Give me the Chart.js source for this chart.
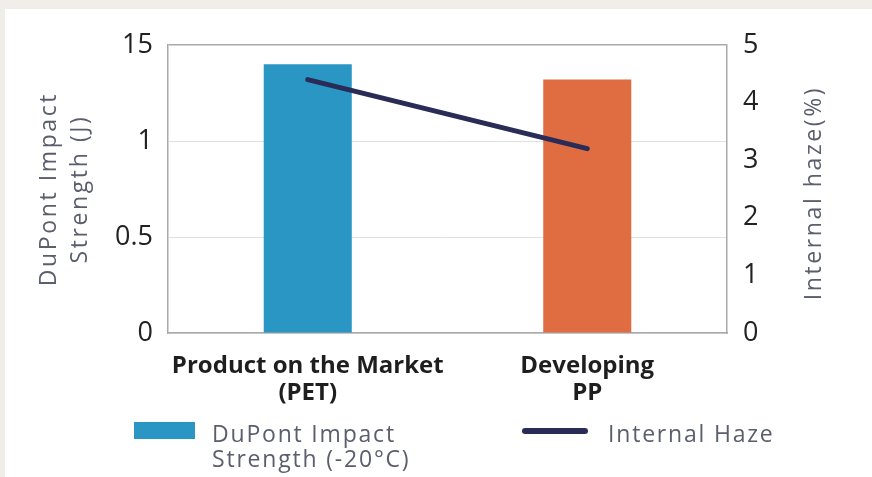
<!DOCTYPE html>
<html><head><meta charset="utf-8">
<script src="https://cdn.jsdelivr.net/npm/chart.js@4/dist/chart.umd.min.js"></script>
<style>
html,body{margin:0;padding:0;background:#efeee9;width:872px;height:477px;overflow:hidden}
#panel{position:absolute;left:5px;top:9px;right:0;bottom:0;background:#fff}
#wrap{position:absolute;left:0;top:0;width:872px;height:477px}
</style></head><body><div id="panel"></div><div id="wrap"><canvas id="c"></canvas></div>
<script>
const categories = [["Product on the Market","(PET)"],["Developing","PP"]];
const impactStrength = [1.40, 1.32];
const internalHaze = [4.4, 3.2];
const leftTickValues = [0, 0.5, 1, 1.5];
const leftTickLabels = ["0","0.5","1","15"];
const rightTickLabels = ["0","1","2","3","4","5"];
const leftTitle = ["DuPont Impact","Strength (J)"];
const rightTitle = "Internal haze(%)";
const impactLegend = ["DuPont Impact","Strength (-20°C)"];
const hazeLegend = ["Internal Haze"];

const BLUE = '#2a96c4', ORANGE = '#e06d42', NAVY = '#2a2c57';
const AXIS = '#a9a9a9', GRID = '#e0e0e0', TITLE = '#5b5e6c', TICK = '#222222';
const FONT = '"Open Sans", "Noto Sans", sans-serif';

const spacingPlugin = {
  id: 'spacing',
  beforeDraw(chart) {
    const s = chart.scales.y;
    if (s && !s._wrappedTitle) {
      const orig = s.drawTitle;
      s.drawTitle = function () {
        this.ctx.save();
        this.ctx.letterSpacing = '2.6px';
        orig.call(this);
        this.ctx.restore();
      };
      s._wrappedTitle = true;
    }
  }
};

const overlayPlugin = {
  id: 'overlay',
  afterDraw(chart) {
    const ctx = chart.ctx;
    const bar = chart.data.datasets[1];
    const line = chart.data.datasets[0];
    const ca = chart.chartArea;
    ctx.save();
    // right axis title, reading bottom-to-top
    ctx.letterSpacing = '2.6px';
    ctx.font = '23px ' + FONT;
    ctx.fillStyle = TITLE;
    ctx.textAlign = 'center';
    ctx.textBaseline = 'middle';
    ctx.save();
    ctx.translate(chart.scales.y1.right - 58, (ca.top + ca.bottom) / 2 + 4);
    ctx.rotate(-Math.PI / 2);
    ctx.fillText(rightTitle, 0, 0);
    ctx.restore();
    // legend
    ctx.fillStyle = bar.backgroundColor[0];
    ctx.fillRect(134, 422, 61, 17);
    ctx.strokeStyle = line.borderColor;
    ctx.lineWidth = 6;
    ctx.lineCap = 'round';
    ctx.beginPath();
    ctx.moveTo(525, 431);
    ctx.lineTo(585, 431);
    ctx.stroke();
    ctx.letterSpacing = '1.8px';
    ctx.fillStyle = TITLE;
    ctx.textBaseline = 'alphabetic';
    ctx.textAlign = 'left';
    impactLegend.forEach((t, i) => ctx.fillText(t, 212, 442 + i * 25));
    hazeLegend.forEach((t, i) => ctx.fillText(t, 608, 442 + i * 25));
    ctx.restore();
  }
};

new Chart(document.getElementById('c'), {
  data: {
    labels: categories,
    datasets: [
      {
        type: 'line',
        label: hazeLegend.join(' '),
        data: internalHaze,
        yAxisID: 'y1',
        borderColor: NAVY,
        borderWidth: 5,
        borderCapStyle: 'round',
        pointRadius: 0,
        pointHoverRadius: 0,
        tension: 0,
        order: 0
      },
      {
        type: 'bar',
        label: impactLegend.join(' '),
        data: impactStrength,
        yAxisID: 'y',
        backgroundColor: [BLUE, ORANGE],
        borderWidth: 0,
        categoryPercentage: 1,
        barPercentage: 0.315,
        order: 1
      }
    ]
  },
  options: {
    responsive: true,
    maintainAspectRatio: false,
    animation: false,
    layout: { padding: { top: 45, left: 0, right: 0, bottom: 0 } },
    plugins: { legend: { display: false }, tooltip: { enabled: false } },
    scales: {
      x: {
        grid: { display: false },
        border: { display: true, color: AXIS, width: 1.5 },
        ticks: {
          font: { family: FONT, size: 24, weight: 'bold', lineHeight: 1.15 },
          color: '#1e1e1e', padding: 11, maxRotation: 0, autoSkip: false
        },
        afterFit(s) { s.height = 144; }
      },
      y: {
        position: 'left',
        min: 0, max: 1.5,
        afterBuildTicks(s) { s.ticks = leftTickValues.map(v => ({ value: v })); },
        ticks: {
          callback: (v) => leftTickLabels[leftTickValues.indexOf(v)],
          padding: 15, font: { family: FONT, size: 27 }, color: TICK
        },
        grid: {
          color: c => (c.tick && c.tick.value === 1.5) ? AXIS : GRID,
          lineWidth: c => (c.tick && c.tick.value === 1.5) ? 1.5 : 1,
          drawTicks: false
        },
        border: { display: true, color: AXIS, width: 1.5 },
        title: {
          display: true, text: leftTitle, color: TITLE,
          font: { family: FONT, size: 23, lineHeight: 1.35 },
          padding: { top: 34, bottom: 0 }
        },
        afterFit(s) { s.width = 168; }
      },
      y1: {
        position: 'right',
        min: 0, max: 5,
        ticks: {
          stepSize: 1,
          callback: (v, i) => rightTickLabels[i],
          padding: 16, font: { family: FONT, size: 27 }, color: TICK
        },
        grid: { drawOnChartArea: false, drawTicks: false },
        border: { display: true, color: AXIS, width: 1.5 },
        afterFit(s) { s.width = 145; }
      }
    }
  },
  plugins: [spacingPlugin, overlayPlugin]
});
</script></body></html>
